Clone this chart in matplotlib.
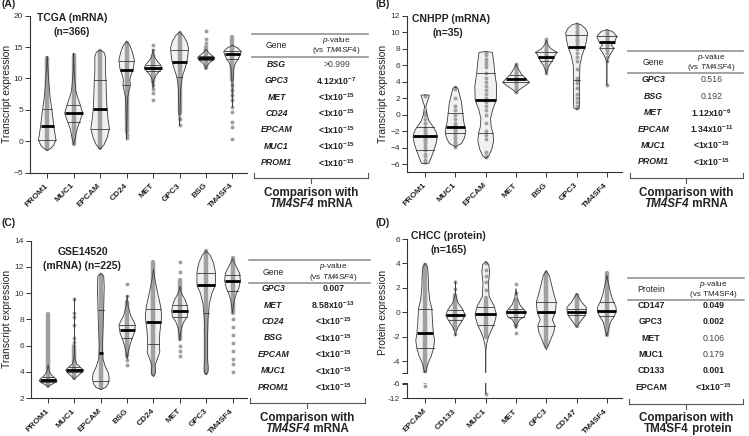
import numpy as np
import matplotlib
matplotlib.use('Agg')
import matplotlib.pyplot as plt
from matplotlib.lines import Line2D

plt.rcParams['font.family'] = ['Liberation Sans', 'DejaVu Sans']
plt.rcParams['mathtext.fontset'] = 'custom'
plt.rcParams['mathtext.rm'] = 'Liberation Sans'
plt.rcParams['mathtext.it'] = 'Liberation Sans:italic'
plt.rcParams['mathtext.bf'] = 'Liberation Sans:bold'
plt.rcParams['mathtext.default'] = 'regular'

# ---------------- panel A : TCGA (mRNA) ----------------
A_genes = ['PROM1', 'MUC1', 'EPCAM', 'CD24', 'MET', 'GPC3', 'BSG', 'TM4SF4']
A_med = [2.4, 4.5, 5.1, 11.4, 11.7, 12.7, 13.3, 13.85]
A_q1 = [0.27, 3.1, 2.0, 8.9, 11.25, 10.2, 12.9, 13.1]
A_q3 = [5.2, 5.8, 9.7, 12.8, 12.2, 14.5, 13.6, 14.35]
A_prof_y = [
    [13.5, 10, 7, 5.2, 3.5, 2.4, 1.0, 0.27, -0.6, -1.1, -1.45],
    [14.0, 11, 8, 6.5, 5.8, 4.5, 3.1, 2.0, 0.5, -0.5],
    [14.5, 14.2, 13.5, 11, 9.7, 7, 5.1, 3.5, 2.0, 0.5, -0.6, -1.2],
    [15.9, 15.3, 14.2, 13.0, 12.0, 11.4, 10.5, 9.8, 8.9, 8.2, 7.0, 5.0, 2.0, 0.4],
    [14.6, 13.5, 12.8, 12.2, 11.7, 11.25, 10.6, 9.8, 8.5],
    [17.4, 16.8, 15.8, 14.8, 13.5, 12.7, 11.5, 10.5, 9.5, 8, 6, 4, 2.6],
    [14.6, 14.0, 13.6, 13.3, 12.9, 12.5, 12.0, 11.6],
    [15.3, 14.8, 14.3, 13.85, 13.1, 12.5, 11.8, 10.5, 9, 7, 5.5],
]
A_prof_w = [
    [0, 0.05, 0.11, 0.17, 0.22, 0.25, 0.30, 0.33, 0.25, 0.14, 0],
    [0, 0.02, 0.08, 0.19, 0.25, 0.34, 0.23, 0.13, 0.06, 0],
    [0, 0.14, 0.2, 0.2, 0.22, 0.24, 0.26, 0.3, 0.35, 0.26, 0.14, 0],
    [0, 0.12, 0.22, 0.29, 0.27, 0.24, 0.16, 0.12, 0.14, 0.10, 0.04, 0.02, 0.01, 0],
    [0, 0.05, 0.15, 0.28, 0.33, 0.26, 0.12, 0.03, 0],
    [0, 0.15, 0.28, 0.34, 0.31, 0.28, 0.2, 0.12, 0.07, 0.04, 0.03, 0.02, 0],
    [0, 0.13, 0.25, 0.32, 0.26, 0.13, 0.04, 0],
    [0, 0.22, 0.33, 0.30, 0.22, 0.12, 0.06, 0.03, 0.02, 0.01, 0],
]
A_dense = [(-1.3, 13.3), (-0.4, 13.8), (-1.1, 14.3), (1.5, 15.7),
           (9.5, 13.8), (4.5, 17.2), (11.7, 15.0), (9.8, 16.6)]
A_dots = [[], [], [], [0.5, 1.0], [15.3, 14.6, 9.0, 8.4, 7.7, 6.6],
          [3.5, 2.6], [15.6, 16.3, 17.5],
          [8.9, 8.2, 7.4, 6.5, 5.5, 4.7, 3.0, 2.2, 0.4]]

# ---------------- panel B : CNHPP (mRNA) ----------------
B_genes = ['PROM1', 'MUC1', 'EPCAM', 'MET', 'BSG', 'GPC3', 'TM4SF4']
B_med = [-2.65, -1.5, 1.8, 4.37, 7.04, 8.2, 8.85]
B_q1 = [-4.3, -2.2, -2.25, 3.9, 6.55, 4.2, 8.05]
B_q3 = [-1.55, 0.17, 5.0, 4.8, 7.55, 9.66, 9.5]
B_prof_y = [
    [2.4, 2.35, 1.0, 0.0, -0.8, -1.55, -2.2, -2.65, -3.5, -4.3, -5.2, -5.9, -5.96],
    [3.35, 3.2, 2.5, 1.5, 0.17, -0.8, -1.5, -2.0, -2.8, -3.5, -3.9],
    [7.65, 7.55, 6.5, 5.0, 3.5, 1.8, 0.5, -0.5, -1.5, -2.25, -3.2, -4.2, -5.0, -5.3],
    [6.1, 5.5, 4.8, 4.37, 3.9, 3.5, 3.0, 2.65],
    [9.0, 8.5, 8.0, 7.55, 7.3, 7.04, 6.55, 6.0, 5.5, 5.0],
    [11.05, 10.9, 10.4, 9.9, 9.0, 8.2, 7.2, 6.0, 4.5, 3.0, 1.5, 0.8, 0.65],
    [10.3, 10.1, 9.5, 8.85, 8.45, 8.05, 7.5, 6.8, 6.3, 3.6],
]
B_prof_w = [
    [0, 0.14, 0.02, 0.06, 0.13, 0.28, 0.37, 0.40, 0.36, 0.29, 0.2, 0.12, 0],
    [0, 0.08, 0.13, 0.2, 0.24, 0.27, 0.31, 0.34, 0.3, 0.2, 0],
    [0, 0.22, 0.26, 0.30, 0.36, 0.35, 0.22, 0.16, 0.18, 0.24, 0.26, 0.2, 0.1, 0],
    [0, 0.08, 0.2, 0.33, 0.44, 0.3, 0.1, 0],
    [0, 0.05, 0.15, 0.36, 0.30, 0.27, 0.2, 0.1, 0.04, 0],
    [0, 0.15, 0.3, 0.36, 0.33, 0.28, 0.18, 0.11, 0.1, 0.1, 0.1, 0.09, 0],
    [0, 0.18, 0.33, 0.26, 0.14, 0.24, 0.14, 0.04, 0.0, 0.0],
]
B_dense = [None] * 7
B_dots = [
    [2.3, 0.3, 0.0, -0.5, -1.0, -1.5, -1.8, -2.0, -2.2, -2.5, -2.6, -2.8, -3.0,
     -3.2, -3.5, -3.8, -4.0, -4.3, -4.8, -5.0, -5.5, -5.8],
    [3.3, 3.1, 2.0, 1.0, 0.5, 0.0, -0.5, -1.0, -1.3, -1.5, -1.7, -1.9, -2.1,
     -2.4, -2.7, -3.0, -3.3, -3.6, -3.9],
    [7.5, 7.2, 6.8, 6.5, 6.2, 5.8, 5.0, 4.5, 4.0, 3.5, 3.0, 2.5, 2.0, 1.8, 1.5,
     1.0, 0.5, 0.0, -1.0, -2.0, -2.5, -3.0, -4.5, -5.0, -5.2],
    [6.2, 6.0, 5.8, 5.5, 5.2, 5.0, 4.8, 4.6, 4.5, 4.4, 4.3, 4.2, 4.0, 3.9, 3.8,
     3.6, 3.4, 3.2, 3.0, 2.8],
    [9.2, 8.8, 8.5, 8.2, 8.0, 7.8, 7.6, 7.4, 7.2, 7.0, 6.9, 6.7, 6.5, 6.2, 6.0,
     5.7, 5.4, 5.0],
    [11.0, 10.8, 10.5, 10.2, 10.0, 9.8, 9.5, 9.2, 9.0, 8.8, 8.5, 8.2, 8.0, 7.5,
     7.0, 6.5, 5.5, 4.5, 4.2, 3.8, 3.2, 2.5, 2.0, 1.5, 1.0, 0.8],
    [10.2, 10.0, 9.8, 9.6, 9.4, 9.2, 9.0, 8.9, 8.8, 8.7, 8.5, 8.3, 8.0, 7.8,
     7.5, 7.0, 6.5, 3.6],
]

# ---------------- panel C : GSE14520 (mRNA) ----------------
C_genes = ['PROM1', 'MUC1', 'EPCAM', 'BSG', 'CD24', 'MET', 'GPC3', 'TM4SF4']
C_med = [3.4, 4.15, 5.4, 7.2, 7.8, 8.65, 10.65, 10.95]
C_q1 = [3.25, 3.95, 3.3, 6.6, 6.1, 8.15, 8.5, 10.2]
C_q3 = [3.6, 4.35, 8.7, 7.6, 8.8, 9.1, 11.55, 11.35]
C_prof_y = [
    [4.5, 4.0, 3.7, 3.45, 3.3, 3.1, 2.9],
    [9.6, 6.0, 5.0, 4.6, 4.3, 4.13, 3.9, 3.6, 3.45],
    [11.5, 11.3, 10.5, 9.0, 7.5, 6.0, 5.0, 4.4, 3.9, 3.5, 3.1, 2.8, 2.65],
    [9.8, 9.0, 8.3, 7.8, 7.55, 7.2, 6.9, 6.5, 6.0, 5.5, 5.0],
    [11.8, 11.0, 10.0, 9.0, 8.3, 7.8, 7.0, 6.1, 5.5, 5.0, 4.5, 4.1, 3.8, 3.65],
    [10.5, 10.0, 9.5, 9.1, 8.65, 8.2, 7.8, 7.3, 6.8, 6.4],
    [13.2, 12.9, 12.3, 11.6, 10.6, 10.0, 9.2, 8.0, 6.5, 5.0, 4.3, 4.0, 3.8],
    [12.6, 12.0, 11.5, 10.95, 10.4, 10.0, 9.5, 9.0, 8.5],
]
C_prof_w = [
    [0, 0.05, 0.15, 0.30, 0.34, 0.2, 0],
    [0, 0.0, 0.02, 0.08, 0.25, 0.33, 0.25, 0.08, 0],
    [0, 0.11, 0.13, 0.11, 0.09, 0.06, 0.08, 0.17, 0.29, 0.32, 0.28, 0.18, 0],
    [0, 0.04, 0.13, 0.26, 0.31, 0.29, 0.26, 0.18, 0.10, 0.04, 0],
    [0, 0.06, 0.16, 0.27, 0.31, 0.29, 0.24, 0.22, 0.24, 0.15, 0.06, 0.08, 0.06, 0],
    [0, 0.06, 0.2, 0.27, 0.31, 0.28, 0.15, 0.06, 0.02, 0],
    [0, 0.15, 0.28, 0.35, 0.35, 0.22, 0.12, 0.07, 0.05, 0.05, 0.08, 0.07, 0],
    [0, 0.15, 0.27, 0.30, 0.24, 0.15, 0.07, 0.03, 0],
]
C_dense = [(2.9, 8.4), (3.5, 6.0), (2.8, 11.4), (5.2, 9.3), (3.8, 12.4),
           (6.5, 11.0), (3.9, 13.2), (8.5, 12.7)]
C_dots = [[], [9.55, 8.5, 8.2, 7.6, 6.6, 6.3], [], [10.7, 9.8, 4.9, 4.5], [],
          [12.4, 11.6, 6.0, 5.6, 5.2], [],
          [8.0, 7.4, 6.8, 6.2, 5.6, 5.0, 4.6, 4.0]]

# ---------------- panel D : CHCC (protein) ----------------
D_genes = ['EPCAM', 'CD133', 'MUC1', 'MET', 'GPC3', 'CD147', 'TM4SF4']
D_med = [-1.7, -0.25, -0.16, 0.0, 0.0, 0.0, 0.1]
D_q1 = [-2.9, -0.66, -1.07, -0.38, -1.1, -0.25, -0.3]
D_q3 = [0.3, 0.16, 0.45, 0.3, 0.85, 0.3, 0.85]
D_prof_y = [
    [4.0, 3.7, 3.0, 2.0, 1.0, 0.3, -0.7, -1.7, -2.3, -2.9, -3.6, -4.2, -4.7, -5.0],
    [2.5, 1.5, 0.8, 0.2, -0.25, -0.7, -1.2, -1.6, -1.9],
    [4.15, 3.9, 3.3, 2.4, 1.3, 0.5, -0.16, -0.5, -1.07, -1.6, -2.1, -2.6, -3.2, -10.0],
    [1.9, 1.2, 0.6, 0.3, 0.0, -0.38, -0.6, -1.0, -1.3],
    [3.4, 3.0, 2.3, 1.3, 0.85, 0.0, -0.6, -1.1, -1.6, -2.2, -2.7, -3.05],
    [1.5, 1.2, 0.85, 0.4, 0.0, -0.3, -0.7, -1.0, -1.2],
    [3.0, 2.5, 1.5, 0.85, 0.45, 0.1, -0.3, -0.8, -1.5, -1.9],
]
D_prof_w = [
    [0, 0.08, 0.1, 0.11, 0.15, 0.22, 0.24, 0.27, 0.31, 0.28, 0.2, 0.09, 0.04, 0],
    [0, 0.0, 0.08, 0.25, 0.32, 0.22, 0.09, 0.02, 0],
    [0, 0.1, 0.13, 0.09, 0.11, 0.28, 0.35, 0.33, 0.26, 0.16, 0.08, 0.03, 0.0, 0.0],
    [0, 0.04, 0.13, 0.24, 0.33, 0.27, 0.12, 0.03, 0],
    [0, 0.1, 0.17, 0.27, 0.33, 0.3, 0.2, 0.28, 0.25, 0.15, 0.07, 0],
    [0, 0.08, 0.16, 0.32, 0.31, 0.27, 0.15, 0.06, 0],
    [0, 0.04, 0.13, 0.22, 0.3, 0.31, 0.25, 0.12, 0.05, 0],
]
D_dense = [(-5.0, 3.9), (-1.4, 1.4), (-2.0, 1.2), (-1.1, 1.0), (-2.8, 3.2),
           (-1.1, 1.4), (-1.9, 3.2)]
D_dots = [[-6.8], [2.5, 1.9, -1.8], [4.0, 3.5, 3.0, 2.5, 1.8, -10.0],
          [2.3, 1.6, -1.7], [], [], []]

# ---------------- tables ----------------
A_tab_genes = ['BSG', 'GPC3', 'MET', 'CD24', 'EPCAM', 'MUC1', 'PROM1']
A_tab_p = ['>0.999', '4.12x10$^{-7}$', '<1x10$^{-15}$', '<1x10$^{-15}$',
           '<1x10$^{-15}$', '<1x10$^{-15}$', '<1x10$^{-15}$']
A_tab_bold = [False, True, True, True, True, True, True]
B_tab_genes = ['GPC3', 'BSG', 'MET', 'EPCAM', 'MUC1', 'PROM1']
B_tab_p = ['0.516', '0.192', '1.12x10$^{-6}$', '1.34x10$^{-11}$',
           '<1x10$^{-15}$', '<1x10$^{-15}$']
B_tab_bold = [False, False, True, True, True, True]
C_tab_genes = ['GPC3', 'MET', 'CD24', 'BSG', 'EPCAM', 'MUC1', 'PROM1']
C_tab_p = ['0.007', '8.58x10$^{-13}$', '<1x10$^{-15}$', '<1x10$^{-15}$',
           '<1x10$^{-15}$', '<1x10$^{-15}$', '<1x10$^{-15}$']
C_tab_bold = [True] * 7
D_tab_genes = ['CD147', 'GPC3', 'MET', 'MUC1', 'CD133', 'EPCAM']
D_tab_p = ['0.049', '0.002', '0.106', '0.179', '0.001', '<1x10$^{-15}$']
D_tab_bold = [True, True, False, False, True, True]

W, H = 749, 436
FILL = '#f1f1f1'
EDGE = '#3a3a3a'
DOT = '#a0a0a0'
TXT = '#222222'

fig = plt.figure(figsize=(W / 100, H / 100), dpi=100)


def rect(l, t, r, b):
    return [l / W, 1 - b / H, (r - l) / W, (b - t) / H]


def fx(x):
    return x / W


def fy(y):
    return 1 - y / H


def style_axes(ax, bottom=True):
    for s in ['top', 'right']:
        ax.spines[s].set_visible(False)
    ax.spines['left'].set_linewidth(0.8)
    ax.spines['left'].set_color('#333333')
    ax.spines['bottom'].set_linewidth(0.8)
    ax.spines['bottom'].set_color('#333333')
    ax.spines['bottom'].set_visible(bottom)
    ax.tick_params(axis='both', length=3.5, width=0.7, color='#333333',
                   labelsize=6, labelcolor='#333333', pad=1.5)
    ax.set_facecolor('none')


def draw_violins(ax, med, q1, q3, py, pw, dense, dots):
    for i in range(len(med)):
        ys = np.array(py[i], dtype=float)
        ws = np.array(pw[i], dtype=float)
        ax.fill_betweenx(ys, i - ws, i + ws, color=FILL, lw=0, zorder=1)
        if dense[i] is not None:
            ax.plot([i, i], dense[i], color=DOT, lw=3.2,
                    solid_capstyle='round', zorder=2)
        if dots[i]:
            ax.scatter(np.full(len(dots[i]), i), dots[i], s=8, color=DOT,
                       lw=0, zorder=2)
        ax.plot(i - ws, ys, color=EDGE, lw=0.6, zorder=3)
        ax.plot(i + ws, ys, color=EDGE, lw=0.6, zorder=3)
        for q in (q1[i], q3[i]):
            w = np.interp(q, ys[::-1], ws[::-1])
            ax.plot([i - w, i + w], [q, q], color=EDGE, lw=0.6, zorder=3)
        w = np.interp(med[i], ys[::-1], ws[::-1])
        ax.plot([i - w, i + w], [med[i], med[i]], color='black', lw=2.0,
                solid_capstyle='butt', zorder=4)


def set_xlabels(ax, genes):
    ax.set_xticks(range(len(genes)))
    ax.set_xticklabels(genes, rotation=45, ha='right', va='center',
                       rotation_mode='anchor', fontweight='bold', fontsize=6,
                       color=TXT)
    ax.tick_params(axis='x', pad=5)


def hline(x0, x1, y, color='#8a8a8a', lw=1.0):
    fig.add_artist(Line2D([fx(x0), fx(x1)], [fy(y), fy(y)], color=color,
                          lw=lw, transform=fig.transFigure))


def vline(x, y0, y1, color='#555555', lw=0.8):
    fig.add_artist(Line2D([fx(x), fx(x)], [fy(y0), fy(y1)], color=color,
                          lw=lw, transform=fig.transFigure))


def draw_table(x0, x1, ytop, yhead, row0, col1, col2, names, pvals, bold,
               head_name, italic_names, head2, cmp_y, bl, br, bc, by,
               last_word, italic_gene):
    hline(x0, x1, ytop, lw=1.1)
    hline(x0, x1, yhead, lw=1.1)
    fig.text(fx(col1), fy((ytop + yhead) / 2 + 0.5), head_name, fontsize=6.2,
             ha='center', va='center', color=TXT)
    fig.text(fx(col2), fy(ytop + 6.3), r'$\it{p}$-value', fontsize=5.9,
             ha='center', va='center', color=TXT)
    fig.text(fx(col2), fy(ytop + 17), head2, fontsize=5.9,
             ha='center', va='center', color=TXT)
    for k, (g, p, b) in enumerate(zip(names, pvals, bold)):
        yy = row0 + k * 16.4
        fig.text(fx(col1), fy(yy), g, fontsize=6.3, ha='center', va='center',
                 fontweight='bold', fontstyle='italic' if italic_names else 'normal',
                 color=TXT)
        fig.text(fx(col2), fy(yy), p, fontsize=6.3, ha='center', va='center',
                 fontweight='bold' if b else 'normal',
                 color=TXT if b else '#444444')
    # bracket under the table
    hline(bl, br, by, color='#555555', lw=0.8)
    vline(bl, by, by - 5)
    vline(br, by, by - 5)
    vline(bc, by, by + 5)
    fig.text(fx(bc), fy(cmp_y), 'Comparison with', fontsize=8.4,
             fontweight='bold', ha='center', va='center', color=TXT)
    split = bc + 3
    fig.text(fx(split), fy(cmp_y + 10.5), 'TM4SF4', fontsize=8.4,
             fontweight='bold', fontstyle='italic' if italic_gene else 'normal',
             ha='right', va='center', color=TXT)
    fig.text(fx(split), fy(cmp_y + 10.5), ' ' + last_word, fontsize=8.4,
             fontweight='bold', ha='left', va='center', color=TXT)


# ---- panel A
axA = fig.add_axes(rect(30, 15.7, 247, 172.7))
style_axes(axA)
draw_violins(axA, A_med, A_q1, A_q3, A_prof_y, A_prof_w, A_dense, A_dots)
axA.set_xlim(-0.65, 7.55)
axA.set_ylim(-5, 20)
axA.set_yticks(range(-5, 21, 5))
set_xlabels(axA, A_genes)

# ---- panel B
axB = fig.add_axes(rect(407, 15.7, 622, 172.3))
style_axes(axB)
draw_violins(axB, B_med, B_q1, B_q3, B_prof_y, B_prof_w, B_dense, B_dots)
axB.set_xlim(-0.6, 6.5)
axB.set_ylim(-7, 12)
axB.set_yticks(range(-6, 13, 2))
set_xlabels(axB, B_genes)

# ---- panel C
axC = fig.add_axes(rect(31, 240.7, 247, 398))
style_axes(axC)
draw_violins(axC, C_med, C_q1, C_q3, C_prof_y, C_prof_w, C_dense, C_dots)
axC.set_xlim(-0.65, 7.55)
axC.set_ylim(2, 14)
axC.set_yticks(range(2, 15, 2))
set_xlabels(axC, C_genes)

# ---- panel D (broken axis)
axD = fig.add_axes(rect(407, 239, 622, 373.3))
axD2 = fig.add_axes(rect(407, 382.7, 622, 398.3))
style_axes(axD, bottom=False)
style_axes(axD2)
for ax in (axD, axD2):
    draw_violins(ax, D_med, D_q1, D_q3, D_prof_y, D_prof_w, D_dense, D_dots)
    ax.set_xlim(-0.6, 6.5)
axD.set_ylim(-5, 6)
axD.set_yticks([-5, -4, -2, 0, 2, 4, 6])
axD.set_yticklabels(['', '-4', '-2', '0', '2', '4', '6'])
axD.set_xticks([])
axD2.set_ylim(-12, -5.5)
axD2.set_yticks([-12, -6, -5.5])
axD2.set_yticklabels(['-12', '-6', ''])
set_xlabels(axD2, D_genes)

# ---- titles, panel letters, axis labels
fig.text(fx(71.7), fy(18.3), 'TCGA (mRNA)', fontsize=7.5, fontweight='bold',
         ha='center', va='center', color=TXT)
fig.text(fx(71.7), fy(32.3), '(n=366)', fontsize=7.5, fontweight='bold',
         ha='center', va='center', color=TXT)
fig.text(fx(451), fy(19.3), 'CNHPP (mRNA)', fontsize=7.5, fontweight='bold',
         ha='center', va='center', color=TXT)
fig.text(fx(448.3), fy(32.7), '(n=35)', fontsize=7.5, fontweight='bold',
         ha='center', va='center', color=TXT)
fig.text(fx(83.3), fy(252.3), 'GSE14520', fontsize=7.5, fontweight='bold',
         ha='center', va='center', color=TXT)
fig.text(fx(81.7), fy(265.7), '(mRNA) (n=225)', fontsize=7.5,
         fontweight='bold', ha='center', va='center', color=TXT)
fig.text(fx(448.3), fy(236.3), 'CHCC (protein)', fontsize=7.5,
         fontweight='bold', ha='center', va='center', color=TXT)
fig.text(fx(448.3), fy(249.7), '(n=165)', fontsize=7.5, fontweight='bold',
         ha='center', va='center', color=TXT)

for lab, x, y in [('(A)', 1, 4), ('(B)', 376, 4), ('(C)', 1, 223.5),
                  ('(D)', 376, 223)]:
    fig.text(fx(x), fy(y), lab, fontsize=7.5, fontweight='bold', ha='left',
             va='center', color=TXT)

fig.text(fx(7), fy(94), 'Transcript expression', fontsize=7.4, rotation=90,
         ha='center', va='center', color=TXT)
fig.text(fx(383.5), fy(94), 'Transcript expression', fontsize=7.4,
         rotation=90, ha='center', va='center', color=TXT)
fig.text(fx(7), fy(319), 'Transcript expression', fontsize=7.4, rotation=90,
         ha='center', va='center', color=TXT)
fig.text(fx(383.5), fy(312), 'Protein expression', fontsize=7.4, rotation=90,
         ha='center', va='center', color=TXT)

# ---- tables
draw_table(252, 368, 34, 57, 64.3, 276.7, 336.7, A_tab_genes, A_tab_p,
           A_tab_bold, 'Gene', True, r'(vs $\it{TM4SF4}$)', 193, 254, 368,
           311, 177.7, 'mRNA', True)
draw_table(628, 743, 50.7, 73.5, 80, 653.3, 711.7, B_tab_genes, B_tab_p,
           B_tab_bold, 'Gene', True, r'(vs $\it{TM4SF4}$)', 193, 630, 743,
           686, 177.7, 'mRNA', True)
draw_table(249, 370, 260.3, 283, 288.7, 273.3, 333.3, C_tab_genes, C_tab_p,
           C_tab_bold, 'Gene', True, r'(vs $\it{TM4SF4}$)', 418, 250, 365,
           306.7, 403, 'mRNA', True)
draw_table(628, 744, 278, 299.7, 305.3, 651, 713.3, D_tab_genes, D_tab_p,
           D_tab_bold, 'Protein', False, '(vs TM4SF4)', 418, 629, 743,
           685.7, 404, 'protein', False)

fig.savefig('out.png', dpi=100)
